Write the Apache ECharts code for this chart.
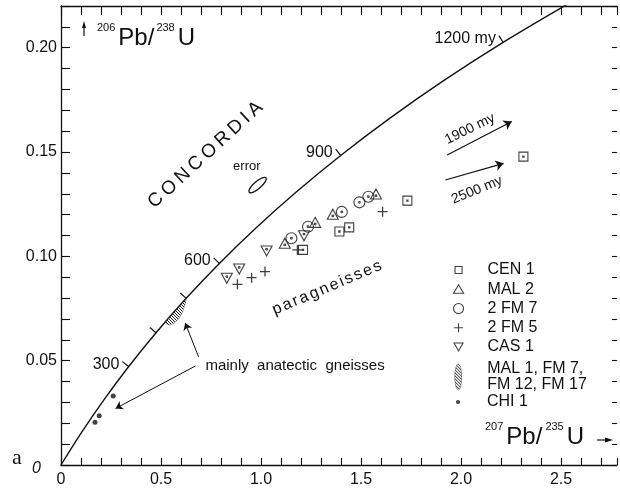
<!DOCTYPE html>
<html>
<head>
<meta charset="utf-8">
<script src="https://cdn.jsdelivr.net/npm/echarts@6/dist/echarts.min.js"></script>
<style>
  html, body { margin: 0; padding: 0; background: #fff; }
  #chart { width: 620px; height: 493px; }
</style>
</head>
<body>
<div id="chart"></div>
<script>
// Concordia (206Pb/238U vs 207Pb/235U), sampled every 100 my
const concordiaAge = [0, 100, 200, 300, 400, 500, 600, 700, 800, 900, 1000, 1100, 1200, 1300];
const concordiaX = [0, 0.10208, 0.21459, 0.33857, 0.47521, 0.62580, 0.79176, 0.97466, 1.17623, 1.39838, 1.64321, 1.91303, 2.21039, 2.53811];
const concordiaY = [0, 0.015489, 0.031218, 0.047190, 0.063410, 0.079881, 0.096608, 0.113593, 0.130842, 0.148358, 0.166145, 0.184208, 0.202550, 0.221176];

// Age marks along the concordia
const ageMarks = [300, 400, 500, 600, 900, 1200];
const ageLabels = ['300', '', '', '600', '900', '1200 my'];

// Zircon fractions: [207Pb/235U, 206Pb/238U]
const cen1 = [[1.210, 0.1031], [1.392, 0.1119], [1.441, 0.1139], [1.732, 0.1267], [2.312, 0.1478]];
const mal2 = [[1.119, 0.1063], [1.271, 0.1163], [1.359, 0.1202], [1.575, 0.1299]];
const fm7 = [[1.152, 0.1087], [1.235, 0.1142], [1.404, 0.1213], [1.492, 0.1259], [1.537, 0.1286]];
const fm5 = [[0.882, 0.0866], [0.953, 0.0898], [1.020, 0.0927], [1.182, 0.1031], [1.608, 0.1214]];
const cas1 = [[0.829, 0.0895], [0.891, 0.0939], [1.028, 0.1026], [1.215, 0.1099]];
const chi1 = [[0.261, 0.0331], [0.191, 0.0236], [0.170, 0.0205]];

// Field of MAL 1, FM 7, FM 12, FM 17 (outline along the concordia)
const hatchOutline = [[0.519, 0.0683], [0.545, 0.0712], [0.571, 0.0741], [0.598, 0.0770], [0.626, 0.0799],
                      [0.622, 0.0776], [0.608, 0.0735], [0.590, 0.0703], [0.565, 0.0680], [0.540, 0.0670]];

// Typical error ellipse position
const errorEllipse = [0.983, 0.1342];

// Arrows toward lower-intercept ages: [x0, y0, x1, y1]
const interceptArrows = [[1.931, 0.1486, 2.254, 0.1646], [1.922, 0.1366, 2.213, 0.1446]];
// Arrows from the "mainly anatectic gneisses" note
const pointerArrows = [[0.688, 0.0518, 0.621, 0.0681], [0.673, 0.0475, 0.273, 0.0271]];

const FONT = "'Liberation Sans', Arial, sans-serif";
const INK = '#111';
const HATCH_NAME = 'MAL 1, FM 7,\nFM 12, FM 17';

// hatch fill pattern
const hatchCanvas = document.createElement('canvas');
hatchCanvas.width = 3; hatchCanvas.height = 3;
(function () {
  const g = hatchCanvas.getContext('2d');
  g.strokeStyle = '#222'; g.lineWidth = 1;
  g.beginPath(); g.moveTo(-1, -1); g.lineTo(4, 4); g.stroke();
})();
const hatchFill = { image: hatchCanvas, repeat: 'repeat' };

function spaced(word, key) {
  return word.split('').map(ch => '{' + key + '|' + ch + '}').join('');
}

const notes = [
  { x: 0.722, y: 0.1486, rot: 42.5, text: spaced('CONCORDIA', 'c'), rich: { c: { fontSize: 19, padding: [0, 2, 0, 2], fill: INK, fontFamily: FONT } } },
  { x: 0.929, y: 0.1429, rot: 0, text: 'error', size: 13 },
  { x: 1.330, y: 0.0849, rot: 23, text: spaced('paragneisses', 'p'), rich: { p: { fontSize: 16, padding: [0, 1, 0, 1], fill: INK, fontFamily: FONT } } },
  { x: 0.722, y: 0.0475, rot: 0, text: 'mainly  anatectic  gneisses', size: 15, align: 'left' },
  { x: 2.045, y: 0.1611, rot: 26, text: '1900 my', size: 14 },
  { x: 2.080, y: 0.1318, rot: 22, text: '2500 my', size: 14 }
];

const outline = { color: 'transparent', borderColor: INK, borderWidth: 1.1 };

const SYM_SQUARE = 'path://M0,0H10V10H0Z M4.3,4.3H5.7V5.7H4.3Z';
const SYM_CIRCLE = 'path://M10,5A5,5 0 1 1 0,5A5,5 0 1 1 10,5Z M5.8,5A0.8,0.8 0 1 1 4.2,5A0.8,0.8 0 1 1 5.8,5Z';
const SYM_TRI = 'path://M5,0L10,9L0,9Z M5.8,6A0.8,0.8 0 1 1 4.2,6A0.8,0.8 0 1 1 5.8,6Z';
const SYM_ITRI = 'path://M0,0H10L5,9Z M5.8,3A0.8,0.8 0 1 1 4.2,3A0.8,0.8 0 1 1 5.8,3Z';
const SYM_PLUS = 'path://M5,0V10M0,5H10';

const chart = echarts.init(document.getElementById('chart'), null, { renderer: 'canvas' });

function xLabel(v) {
  const k = Math.round(v * 10);
  if (Math.abs(v * 10 - k) > 1e-6 || k % 5 !== 0) return '';
  return k === 0 ? '0' : (k / 10).toFixed(1);
}
function yLabel(v) {
  const k = Math.round(v * 100);
  if (Math.abs(v * 100 - k) > 1e-6 || k % 5 !== 0) return '';
  return k === 0 ? '{z|0}' : (k / 100).toFixed(2);
}

const frame = { show: true, onZero: false, lineStyle: { color: INK, width: 1.3 } };
const tickStyle = { color: INK, width: 1.1 };
const legendText = { fontSize: 16, lineHeight: 16, color: INK, fontFamily: FONT };

const option = {
  animation: false,
  backgroundColor: '#fff',
  textStyle: { fontFamily: FONT, color: INK },
  grid: { left: 61, top: 6, right: 0, bottom: 28, containLabel: false },
  xAxis: [
    {
      type: 'value', min: 0, max: 2.78, interval: 0.1, position: 'bottom',
      axisLine: frame, splitLine: { show: false },
      axisTick: { inside: true, length: 7, lineStyle: tickStyle },
      axisLabel: { formatter: xLabel, fontSize: 16, color: INK, margin: 7, fontFamily: FONT }
    },
    {
      type: 'value', min: 0, max: 2.78, interval: 0.1, position: 'top',
      axisLine: frame, splitLine: { show: false },
      axisTick: { inside: true, length: 9, lineStyle: tickStyle },
      axisLabel: { show: false }
    }
  ],
  yAxis: [
    {
      type: 'value', min: 0, max: 0.22, interval: 0.01, position: 'left',
      axisLine: frame, splitLine: { show: false },
      axisTick: { inside: true, length: 9, lineStyle: tickStyle },
      axisLabel: {
        formatter: yLabel, fontSize: 16, color: INK, margin: 4, fontFamily: FONT,
        rich: { z: { fontSize: 16, fontStyle: 'italic', color: INK, fontFamily: FONT, padding: [7, 16, 0, 0] } }
      }
    },
    {
      type: 'value', min: 0, max: 0.22, interval: 0.01, position: 'right',
      axisLine: { show: false, onZero: false }, splitLine: { show: false },
      axisTick: { show: true, inside: true, length: 5, lineStyle: tickStyle },
      axisLabel: { show: false }
    }
  ],
  legend: [
    {
      left: 452, top: 262, orient: 'vertical', selectedMode: false, padding: 0,
      itemWidth: 30, itemHeight: 12, itemGap: 3.25,
      textStyle: legendText,
      data: [
        { name: 'CEN 1', icon: 'path://M0,0M30,12M2.5,2.5H9.5V9.5H2.5Z', itemStyle: outline },
        { name: 'MAL 2', icon: 'path://M0,0M30,12M6,1.5L11,10H1Z', itemStyle: outline },
        { name: '2 FM 7', icon: 'path://M0,0M30,12M11,6A5,5 0 1 1 1,6A5,5 0 1 1 11,6Z', itemStyle: outline },
        { name: '2 FM 5', icon: 'path://M0,0M30,12M6,1.5V10.5M1.5,6H10.5', itemStyle: outline },
        { name: 'CAS 1', icon: 'path://M0,0M30,12M1.5,2H10.5L6,10Z', itemStyle: outline }
      ]
    },
    {
      left: 452, top: 361, orient: 'vertical', selectedMode: false, padding: 0,
      itemWidth: 30, itemHeight: 26,
      textStyle: legendText,
      data: [
        { name: HATCH_NAME, icon: 'path://M0,0M30,26M6,0A3.5,13 0 1 1 6,26A3.5,13 0 1 1 6,0Z', itemStyle: { color: hatchFill, borderColor: '#444', borderWidth: 0.5 } }
      ]
    },
    {
      left: 452, top: 394, orient: 'vertical', selectedMode: false, padding: 0,
      itemWidth: 30, itemHeight: 12,
      textStyle: legendText,
      data: [
        { name: 'CHI 1', icon: 'path://M0,0M30,12M8,6A2,2 0 1 1 4,6A2,2 0 1 1 8,6Z', itemStyle: { color: INK, borderWidth: 0 } }
      ]
    }
  ],
  graphic: [
    // y-axis title with its arrow
    { type: 'line', shape: { x1: 84, y1: 36, x2: 84, y2: 26 }, style: { stroke: INK, lineWidth: 1.2 } },
    { type: 'polygon', shape: { points: [[84, 21], [82, 28], [86, 28]] }, style: { fill: INK } },
    {
      type: 'text', left: 97, top: 22,
      style: {
        text: '{s|206}{b|Pb/}{s|238}{b|U}',
        rich: {
          s: { fontSize: 11, lineHeight: 12, verticalAlign: 'top', fill: INK, fontFamily: FONT, padding: [0, 3, 0, 0] },
          b: { fontSize: 24, lineHeight: 28, verticalAlign: 'bottom', fill: INK, fontFamily: FONT, padding: [0, 2, 0, 0] }
        }
      }
    },
    // x-axis title with its arrow
    {
      type: 'text', left: 485, top: 421,
      style: {
        text: '{s|207}{b|Pb/}{s|235}{b|U}',
        rich: {
          s: { fontSize: 11, lineHeight: 12, verticalAlign: 'top', fill: INK, fontFamily: FONT, padding: [0, 3, 0, 0] },
          b: { fontSize: 24, lineHeight: 28, verticalAlign: 'bottom', fill: INK, fontFamily: FONT, padding: [0, 3, 0, 0] }
        }
      }
    },
    { type: 'line', shape: { x1: 597, y1: 440, x2: 607, y2: 440 }, style: { stroke: INK, lineWidth: 1.2 } },
    { type: 'polygon', shape: { points: [[613, 440], [605, 437.5], [605, 442.5]] }, style: { fill: INK } },
    // panel letter
    { type: 'text', left: 12, top: 447, style: { text: 'a', font: '22px "Liberation Serif", serif', fill: INK } }
  ],
  series: [
    {
      name: 'Concordia', type: 'line', smooth: 0.35, showSymbol: false, clip: true, silent: true,
      data: concordiaX.map((x, i) => [x, concordiaY[i]]),
      lineStyle: { color: INK, width: 1.4 }, z: 2
    },
    {
      // age ticks on the concordia with their labels
      name: 'ages', type: 'custom', silent: true, clip: false, z: 3,
      data: ageMarks.map(a => {
        const i = concordiaAge.indexOf(a);
        return [concordiaX[i], concordiaY[i]];
      }),
      renderItem: function (params, api) {
        const a = ageMarks[params.dataIndex];
        const i = concordiaAge.indexOf(a);
        const p = api.coord([concordiaX[i], concordiaY[i]]);
        const p0 = api.coord([concordiaX[i - 1], concordiaY[i - 1]]);
        const p1 = api.coord([concordiaX[i + 1], concordiaY[i + 1]]);
        let tx = p1[0] - p0[0], ty = p1[1] - p0[1];
        const len = Math.hypot(tx, ty); tx /= len; ty /= len;
        const nx = ty, ny = -tx; // points to the upper-left side
        const L = 8;
        const e = [p[0] + nx * L, p[1] + ny * L];
        const children = [{
          type: 'line', shape: { x1: p[0], y1: p[1], x2: e[0], y2: e[1] },
          style: { stroke: INK, lineWidth: 1.2 }
        }];
        const lab = ageLabels[params.dataIndex];
        if (lab) {
          children.push({
            type: 'text', x: e[0] - 3, y: e[1] + 3,
            style: { text: lab, fill: INK, font: '16px ' + FONT, align: 'right', verticalAlign: 'middle' }
          });
        }
        return { type: 'group', children: children };
      }
    },
    {
      name: HATCH_NAME, type: 'custom', clip: false, z: 3,
      data: [[hatchOutline[0][0], hatchOutline[0][1]]],
      renderItem: function (params, api) {
        return {
          type: 'polygon',
          shape: { points: hatchOutline.map(p => api.coord(p)) },
          style: { fill: hatchFill, stroke: '#444', lineWidth: 0.5 }
        };
      }
    },
    {
      name: 'error', type: 'custom', clip: false, silent: true, z: 3,
      data: [errorEllipse],
      renderItem: function (params, api) {
        const c = api.coord(errorEllipse);
        return {
          type: 'path', x: c[0], y: c[1], rotation: 41 * Math.PI / 180,
          shape: { pathData: 'M-11,0A11,3.6 0 1 1 11,0A11,3.6 0 1 1 -11,0Z', x: -11, y: -3.6, width: 22, height: 7.2 },
          style: { fill: 'none', stroke: INK, lineWidth: 1.3 }
        };
      }
    },
    {
      name: 'notes', type: 'custom', clip: false, silent: true, z: 3,
      data: notes.map(n => [n.x, n.y]),
      renderItem: function (params, api) {
        const n = notes[params.dataIndex];
        const c = api.coord([n.x, n.y]);
        const style = {
          text: n.text, fill: INK, align: n.align || 'center', verticalAlign: 'middle',
          font: (n.size || 16) + 'px ' + FONT
        };
        if (n.rich) style.rich = n.rich;
        return { type: 'text', x: c[0], y: c[1], rotation: n.rot * Math.PI / 180, style: style };
      }
    },
    {
      name: 'intercepts', type: 'lines', coordinateSystem: 'cartesian2d', silent: true, z: 3,
      symbol: ['none', 'arrow'], symbolSize: 8,
      lineStyle: { color: INK, width: 1.2, opacity: 1 },
      data: interceptArrows.map(a => ({ coords: [[a[0], a[1]], [a[2], a[3]]] }))
    },
    {
      name: 'pointers', type: 'lines', coordinateSystem: 'cartesian2d', silent: true, z: 3,
      symbol: ['none', 'arrow'], symbolSize: 7,
      lineStyle: { color: INK, width: 1, opacity: 1 },
      data: pointerArrows.map(a => ({ coords: [[a[0], a[1]], [a[2], a[3]]] }))
    },
    { name: 'CEN 1', type: 'scatter', data: cen1, symbol: SYM_SQUARE, symbolSize: 9, itemStyle: outline, z: 4 },
    { name: 'MAL 2', type: 'scatter', data: mal2, symbol: SYM_TRI, symbolSize: [11, 10], itemStyle: outline, z: 4 },
    { name: '2 FM 7', type: 'scatter', data: fm7, symbol: SYM_CIRCLE, symbolSize: 11, itemStyle: outline, z: 4 },
    { name: '2 FM 5', type: 'scatter', data: fm5, symbol: SYM_PLUS, symbolSize: 10, itemStyle: { color: 'transparent', borderColor: INK, borderWidth: 1.3 }, z: 4 },
    { name: 'CAS 1', type: 'scatter', data: cas1, symbol: SYM_ITRI, symbolSize: [11, 10], itemStyle: outline, z: 4 },
    { name: 'CHI 1', type: 'scatter', data: chi1, symbol: 'circle', symbolSize: 5, itemStyle: { color: INK }, z: 4 }
  ]
};

chart.setOption(option);
</script>
</body>
</html>
